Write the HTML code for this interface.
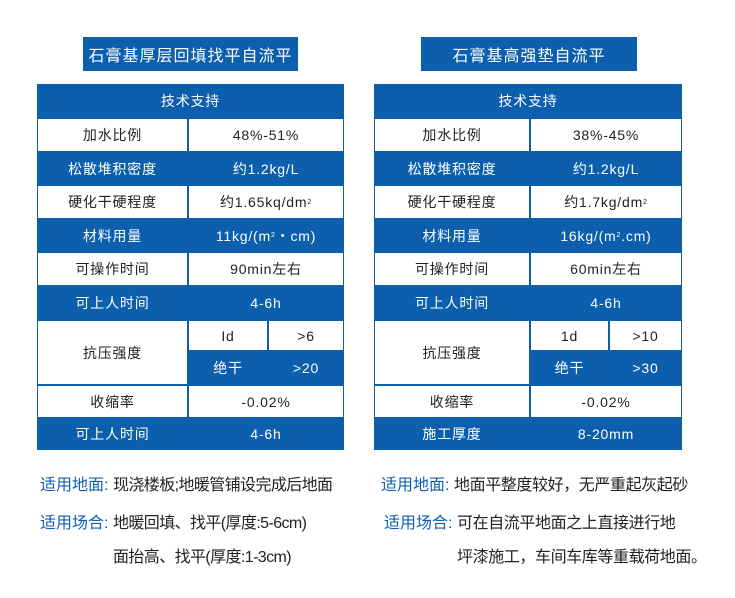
<!DOCTYPE html>
<html><head><meta charset="utf-8"><style>
body{margin:0;width:735px;height:598px;background:#fff;position:relative;overflow:hidden;font-family:"Liberation Sans","Noto Sans CJK SC",sans-serif;}
.a{position:absolute;}
.t{background:#0b5fad;color:#fff;font-size:16px;display:flex;align-items:center;justify-content:center;letter-spacing:1px;}
.c{position:absolute;display:flex;align-items:center;justify-content:center;font-size:14px;color:#222;letter-spacing:0.8px;}
.w{background:#fff;}
.b{color:#fff;}
.lb{color:#1060b0;font-size:16px;}
.tx{color:#222;font-size:16px;}
sup{font-size:7px;}
</style></head><body>
<div class="a t" style="left:83px;top:37px;width:215px;height:34px;">石膏基厚层回填找平自流平</div>
<div class="a t" style="left:421px;top:37px;width:216px;height:34px;">石膏基高强垫自流平</div>

<!-- left table -->
<div class="a" style="left:37px;top:84px;width:307px;height:366px;background:#0b5fad;"></div>
<div class="c b" style="left:37px;top:84px;width:307px;height:34px;">技术支持</div>
<div class="c w" style="left:38px;top:119px;width:149px;height:32px;">加水比例</div>
<div class="c w" style="left:189px;top:119px;width:154px;height:32px;">48%-51%</div>
<div class="c b" style="left:37px;top:152px;width:151px;height:34px;">松散堆积密度</div>
<div class="c b" style="left:188px;top:152px;width:156px;height:34px;">约1.2kg/L</div>
<div class="c w" style="left:38px;top:186px;width:149px;height:32px;">硬化干硬程度</div>
<div class="c w" style="left:189px;top:186px;width:154px;height:32px;">约1.65kq/dm<sup>2</sup></div>
<div class="c b" style="left:37px;top:219px;width:151px;height:33px;">材料用量</div>
<div class="c b" style="left:188px;top:219px;width:156px;height:33px;">11kg/(m<sup>2</sup>・cm)</div>
<div class="c w" style="left:38px;top:253px;width:149px;height:32px;">可操作时间</div>
<div class="c w" style="left:189px;top:253px;width:154px;height:32px;">90min左右</div>
<div class="c b" style="left:37px;top:286px;width:151px;height:34px;">可上人时间</div>
<div class="c b" style="left:188px;top:286px;width:156px;height:34px;">4-6h</div>
<div class="c w" style="left:38px;top:321px;width:149px;height:63px;">抗压强度</div>
<div class="c w" style="left:189px;top:321px;width:78px;height:29px;">Id</div>
<div class="c w" style="left:269px;top:321px;width:74px;height:29px;">&gt;6</div>
<div class="c b" style="left:188px;top:351px;width:80px;height:34px;">绝干</div>
<div class="c b" style="left:268px;top:351px;width:76px;height:34px;">&gt;20</div>
<div class="c w" style="left:38px;top:386px;width:149px;height:31px;">收缩率</div>
<div class="c w" style="left:189px;top:386px;width:154px;height:31px;">-0.02%</div>
<div class="c b" style="left:37px;top:417px;width:151px;height:33px;">可上人时间</div>
<div class="c b" style="left:188px;top:417px;width:156px;height:33px;">4-6h</div>

<!-- right table -->
<div class="a" style="left:374px;top:84px;width:308px;height:366px;background:#0b5fad;"></div>
<div class="c b" style="left:374px;top:84px;width:308px;height:34px;">技术支持</div>
<div class="c w" style="left:375px;top:119px;width:154px;height:32px;">加水比例</div>
<div class="c w" style="left:531px;top:119px;width:150px;height:32px;">38%-45%</div>
<div class="c b" style="left:374px;top:152px;width:156px;height:34px;">松散堆积密度</div>
<div class="c b" style="left:530px;top:152px;width:152px;height:34px;">约1.2kg/L</div>
<div class="c w" style="left:375px;top:186px;width:154px;height:32px;">硬化干硬程度</div>
<div class="c w" style="left:531px;top:186px;width:150px;height:32px;">约1.7kg/dm<sup>2</sup></div>
<div class="c b" style="left:374px;top:219px;width:156px;height:33px;">材料用量</div>
<div class="c b" style="left:530px;top:219px;width:152px;height:33px;">16kg/(m<sup>2</sup>.cm)</div>
<div class="c w" style="left:375px;top:253px;width:154px;height:32px;">可操作时间</div>
<div class="c w" style="left:531px;top:253px;width:150px;height:32px;">60min左右</div>
<div class="c b" style="left:374px;top:286px;width:156px;height:34px;">可上人时间</div>
<div class="c b" style="left:530px;top:286px;width:152px;height:34px;">4-6h</div>
<div class="c w" style="left:375px;top:321px;width:154px;height:63px;">抗压强度</div>
<div class="c w" style="left:531px;top:321px;width:77px;height:29px;">1d</div>
<div class="c w" style="left:610px;top:321px;width:71px;height:29px;">&gt;10</div>
<div class="c b" style="left:530px;top:351px;width:79px;height:34px;">绝干</div>
<div class="c b" style="left:609px;top:351px;width:73px;height:34px;">&gt;30</div>
<div class="c w" style="left:375px;top:386px;width:154px;height:31px;">收缩率</div>
<div class="c w" style="left:531px;top:386px;width:150px;height:31px;">-0.02%</div>
<div class="c b" style="left:374px;top:417px;width:156px;height:33px;">施工厚度</div>
<div class="c b" style="left:530px;top:417px;width:152px;height:33px;">8-20mm</div>

<!-- bottom text -->
<div class="a lb" style="left:40px;top:471px;">适用地面:</div>
<div class="a tx" style="left:113px;top:471px;letter-spacing:-0.6px;">现浇楼板;地暖管铺设完成后地面</div>
<div class="a lb" style="left:40px;top:509px;">适用场合:</div>
<div class="a tx" style="left:113px;top:509px;letter-spacing:-0.6px;">地暖回填、找平(厚度:5-6cm)</div>
<div class="a tx" style="left:113px;top:543px;letter-spacing:-0.6px;">面抬高、找平(厚度:1-3cm)</div>
<div class="a lb" style="left:381px;top:471px;">适用地面:</div>
<div class="a tx" style="left:454px;top:471px;letter-spacing:-0.4px;">地面平整度较好，无严重起灰起砂</div>
<div class="a lb" style="left:384px;top:509px;">适用场合:</div>
<div class="a tx" style="left:457px;top:509px;letter-spacing:-0.4px;">可在自流平地面之上直接进行地</div>
<div class="a tx" style="left:457px;top:543px;letter-spacing:-0.4px;">坪漆施工，车间车库等重载荷地面。</div>
</body></html>
